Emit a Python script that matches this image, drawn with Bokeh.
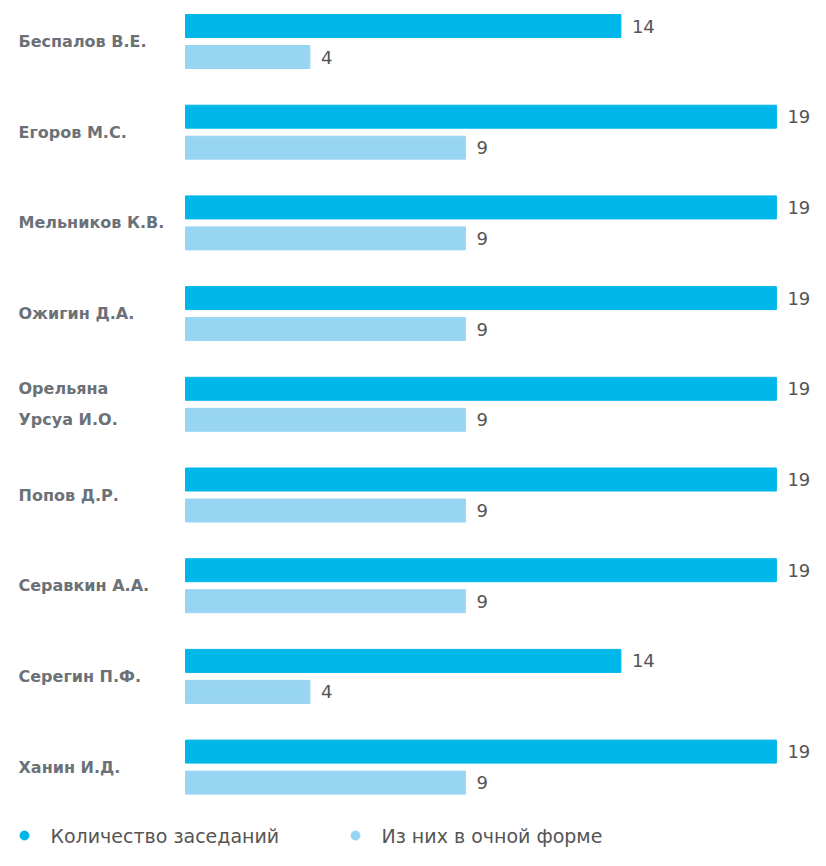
from bokeh.plotting import figure
from bokeh.models import Range1d, ColumnDataSource
from bokeh.core.properties import value
from bokeh.embed import file_html
from bokeh.resources import INLINE

names = ["Беспалов В.Е.", "Егоров М.С.", "Мельников К.В.", "Ожигин Д.А.",
         "Орельяна\nУрсуа И.О.", "Попов Д.Р.", "Серавкин А.А.", "Серегин П.Ф.", "Ханин И.Д."]
total = [14, 19, 19, 19, 19, 19, 19, 14, 19]
in_person = [4, 9, 9, 9, 9, 9, 9, 4, 9]
series_names = ["Количество заседаний", "Из них в очной форме"]
colors = ["#00b7ea", "#98d5f3"]

W, H = 810, 850
PX_PER_UNIT = 31.1
X0_PX = 185          # px where value 0 sits
GROUP_PX = 90.7      # spacing between groups
FIRST_PX = 41.0      # px of first group centre
FONT = "DejaVu Sans"

def px_x(px):
    return (px - X0_PX) / PX_PER_UNIT

def px_y(px):
    return (px - FIRST_PX) / GROUP_PX

p = figure(width=W, height=H, output_backend="svg", toolbar_location=None,
           x_axis_location=None, y_axis_location=None, min_border=0,
           x_range=Range1d(px_x(0), px_x(W)), y_range=Range1d(px_y(H), px_y(0)))
p.grid.visible = False
p.outline_line_color = None

idx = list(range(len(names)))
off = 15.5 / GROUP_PX
bh = 23 / GROUP_PX
gap = 11 / PX_PER_UNIT
src = ColumnDataSource(dict(
    y1=[i - off for i in idx], y2=[i + off for i in idx],
    total=total, inp=in_person,
    tl=[str(v) for v in total], il=[str(v) for v in in_person],
    tx=[v + gap for v in total], ix=[v + gap for v in in_person],
    names=names, nx=[px_x(18)] * len(names), ny=idx,
))

p.hbar(y="y1", left=0, right="total", height=bh, color=colors[0], source=src)
p.hbar(y="y2", left=0, right="inp", height=bh, color=colors[1], source=src)

vt = dict(text_font=value(FONT), text_font_size="18px", text_color="#555555",
          text_baseline="middle", text_align="left")
p.text(x="tx", y="y1", text="tl", source=src, **vt)
p.text(x="ix", y="y2", text="il", source=src, **vt)

p.text(x="nx", y="ny", text="names", source=src, text_font=value(FONT),
       text_font_size="16px", text_font_style="bold", text_color="#6b7177",
       text_baseline="middle", text_align="left", text_line_height=1.65)

# legend
ly = px_y(835)
p.scatter(x=[px_x(24), px_x(355)], y=[ly, ly], size=9, color=colors, marker="circle")
p.text(x=[px_x(50), px_x(381)], y=[ly, ly], text=series_names,
       text_font=value(FONT), text_font_size="19px", text_color="#555555",
       text_baseline="middle", text_align="left")

open("out.html", "w").write(file_html(p, INLINE))
